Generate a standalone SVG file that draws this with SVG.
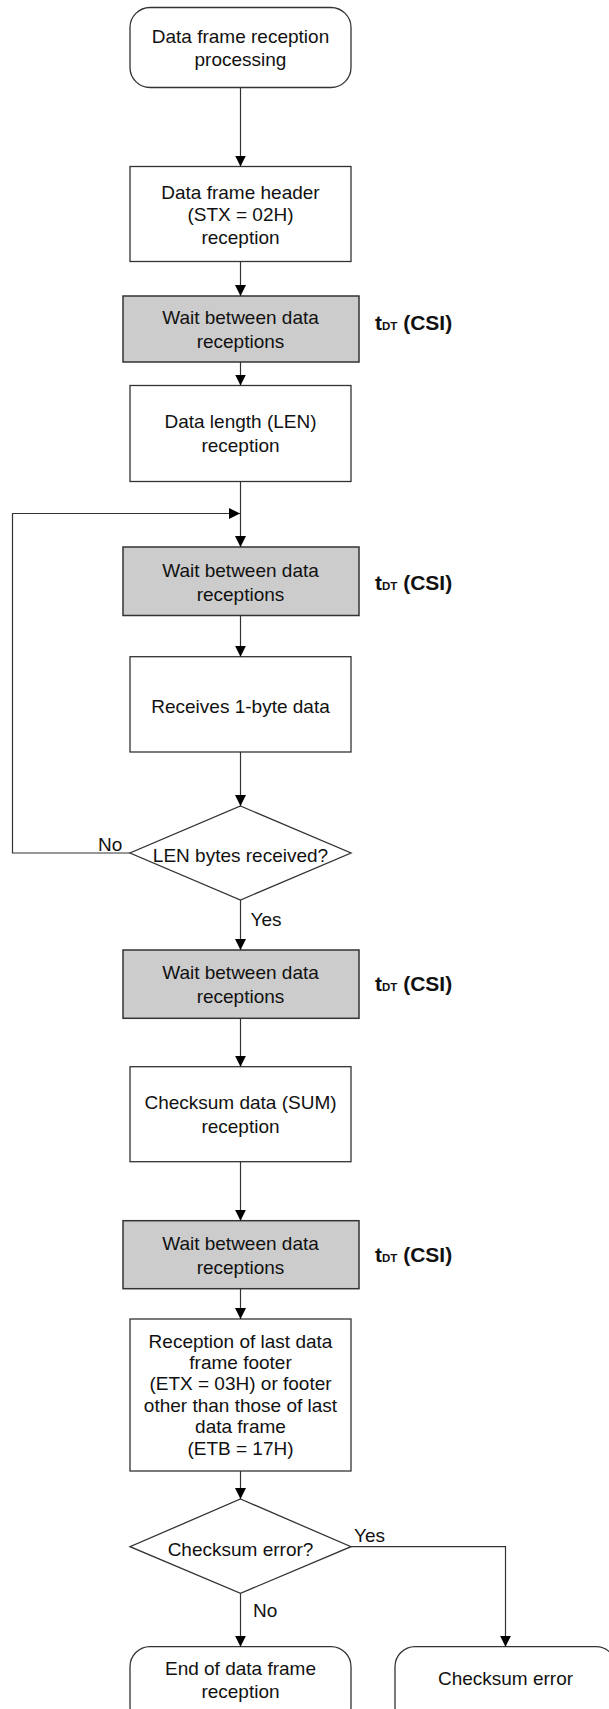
<svg xmlns="http://www.w3.org/2000/svg" width="609" height="1709" viewBox="0 0 609 1709">
<defs>
<marker id="ah" viewBox="0 0 11 11" refX="11" refY="5.5" markerWidth="11" markerHeight="11" markerUnits="userSpaceOnUse" orient="auto">
<path d="M0,0 L11,5.5 L0,11 Z" fill="#000"/>
</marker>
<style>
.box{fill:#fff;stroke:#333;stroke-width:1.3}
.gray{fill:#cccccc;stroke:#333;stroke-width:1.5}
.t{font-family:"Liberation Sans",Arial,sans-serif;font-size:19px;fill:#111;text-anchor:middle}
.lbl{font-family:"Liberation Sans",Arial,sans-serif;font-size:19px;fill:#111}
.td{font-family:"Liberation Sans",Arial,sans-serif;font-size:21px;font-weight:bold;fill:#111}
.c{fill:none;stroke:#333;stroke-width:1.2}
</style>
</defs>

<g id="start">
<rect class="box" x="130" y="7.5" width="221" height="80" rx="20"/>
<text class="t" x="240.5" y="42.5">Data frame reception</text>
<text class="t" x="240.5" y="66">processing</text>
</g>

<g id="header">
<rect class="box" x="130" y="166.5" width="221" height="95"/>
<text class="t" x="240.5" y="198.5">Data frame header</text>
<text class="t" x="240.5" y="220.5">(STX = 02H)</text>
<text class="t" x="240.5" y="243.5">reception</text>
</g>

<g id="wait1">
<rect class="gray" x="123" y="296" width="236" height="66"/>
<text class="t" x="240.5" y="324">Wait between data</text>
<text class="t" x="240.5" y="348">receptions</text>
<text class="td" x="375" y="330">t<tspan font-size="11.5">DT</tspan> (CSI)</text>
</g>

<g id="len">
<rect class="box" x="130" y="385.5" width="221" height="96"/>
<text class="t" x="240.5" y="428">Data length (LEN)</text>
<text class="t" x="240.5" y="452">reception</text>
</g>

<g id="wait2">
<rect class="gray" x="123" y="547" width="236" height="68.5"/>
<text class="t" x="240.5" y="576.5">Wait between data</text>
<text class="t" x="240.5" y="600.5">receptions</text>
<text class="td" x="375" y="590">t<tspan font-size="11.5">DT</tspan> (CSI)</text>
</g>

<g id="recv">
<rect class="box" x="130" y="656.7" width="221" height="95.3"/>
<text class="t" x="240.5" y="713">Receives 1-byte data</text>
</g>

<g id="dec1">
<polygon class="box" points="240.5,806 351,853 240.5,900 130,853"/>
<text class="t" x="240.5" y="862">LEN bytes received?</text>
</g>

<g id="wait3">
<rect class="gray" x="123" y="950" width="236" height="68.3"/>
<text class="t" x="240.5" y="979">Wait between data</text>
<text class="t" x="240.5" y="1003">receptions</text>
<text class="td" x="375" y="991">t<tspan font-size="11.5">DT</tspan> (CSI)</text>
</g>

<g id="sum">
<rect class="box" x="130" y="1066.7" width="221" height="95"/>
<text class="t" x="240.5" y="1109">Checksum data (SUM)</text>
<text class="t" x="240.5" y="1133">reception</text>
</g>

<g id="wait4">
<rect class="gray" x="123" y="1220.7" width="236" height="68"/>
<text class="t" x="240.5" y="1250">Wait between data</text>
<text class="t" x="240.5" y="1274">receptions</text>
<text class="td" x="375" y="1262">t<tspan font-size="11.5">DT</tspan> (CSI)</text>
</g>

<g id="footer">
<rect class="box" x="130" y="1319" width="221" height="152"/>
<text class="t" x="240.5" y="1347.5">Reception of last data</text>
<text class="t" x="240.5" y="1369">frame footer</text>
<text class="t" x="240.5" y="1390">(ETX = 03H) or footer</text>
<text class="t" x="240.5" y="1411.5">other than those of last</text>
<text class="t" x="240.5" y="1433">data frame</text>
<text class="t" x="240.5" y="1455">(ETB = 17H)</text>
</g>

<g id="dec2">
<polygon class="box" points="240.5,1499 351,1546.7 240.5,1593.3 130,1546.7"/>
<text class="t" x="240.5" y="1555.5">Checksum error?</text>
</g>

<g id="end">
<rect class="box" x="130" y="1646.7" width="221" height="80" rx="20"/>
<text class="t" x="240.5" y="1675">End of data frame</text>
<text class="t" x="240.5" y="1698">reception</text>
</g>

<g id="err">
<rect class="box" x="395" y="1646.7" width="221" height="80" rx="20"/>
<text class="t" x="505.5" y="1685">Checksum error</text>
</g>

<g id="connectors">
<line class="c" x1="240.5" y1="87.5" x2="240.5" y2="166.5" marker-end="url(#ah)"/>
<line class="c" x1="240.5" y1="261.5" x2="240.5" y2="296" marker-end="url(#ah)"/>
<line class="c" x1="240.5" y1="362" x2="240.5" y2="385.5" marker-end="url(#ah)"/>
<line class="c" x1="240.5" y1="481.5" x2="240.5" y2="547" marker-end="url(#ah)"/>
<polyline class="c" points="130,853 12.5,853 12.5,513.5 240,513.5" marker-end="url(#ah)"/>
<line class="c" x1="240.5" y1="615.5" x2="240.5" y2="656.7" marker-end="url(#ah)"/>
<line class="c" x1="240.5" y1="752" x2="240.5" y2="806" marker-end="url(#ah)"/>
<line class="c" x1="240.5" y1="900" x2="240.5" y2="950" marker-end="url(#ah)"/>
<line class="c" x1="240.5" y1="1018.3" x2="240.5" y2="1066.7" marker-end="url(#ah)"/>
<line class="c" x1="240.5" y1="1161.7" x2="240.5" y2="1220.7" marker-end="url(#ah)"/>
<line class="c" x1="240.5" y1="1288.7" x2="240.5" y2="1319" marker-end="url(#ah)"/>
<line class="c" x1="240.5" y1="1471" x2="240.5" y2="1499" marker-end="url(#ah)"/>
<line class="c" x1="240.5" y1="1593.3" x2="240.5" y2="1646.7" marker-end="url(#ah)"/>
<polyline class="c" points="351,1546.7 505.5,1546.7 505.5,1646.7" marker-end="url(#ah)"/>
<text class="lbl" x="98" y="851">No</text>
<text class="lbl" x="250.5" y="926">Yes</text>
<text class="lbl" x="354" y="1542">Yes</text>
<text class="lbl" x="253" y="1617">No</text>
</g>
</svg>
